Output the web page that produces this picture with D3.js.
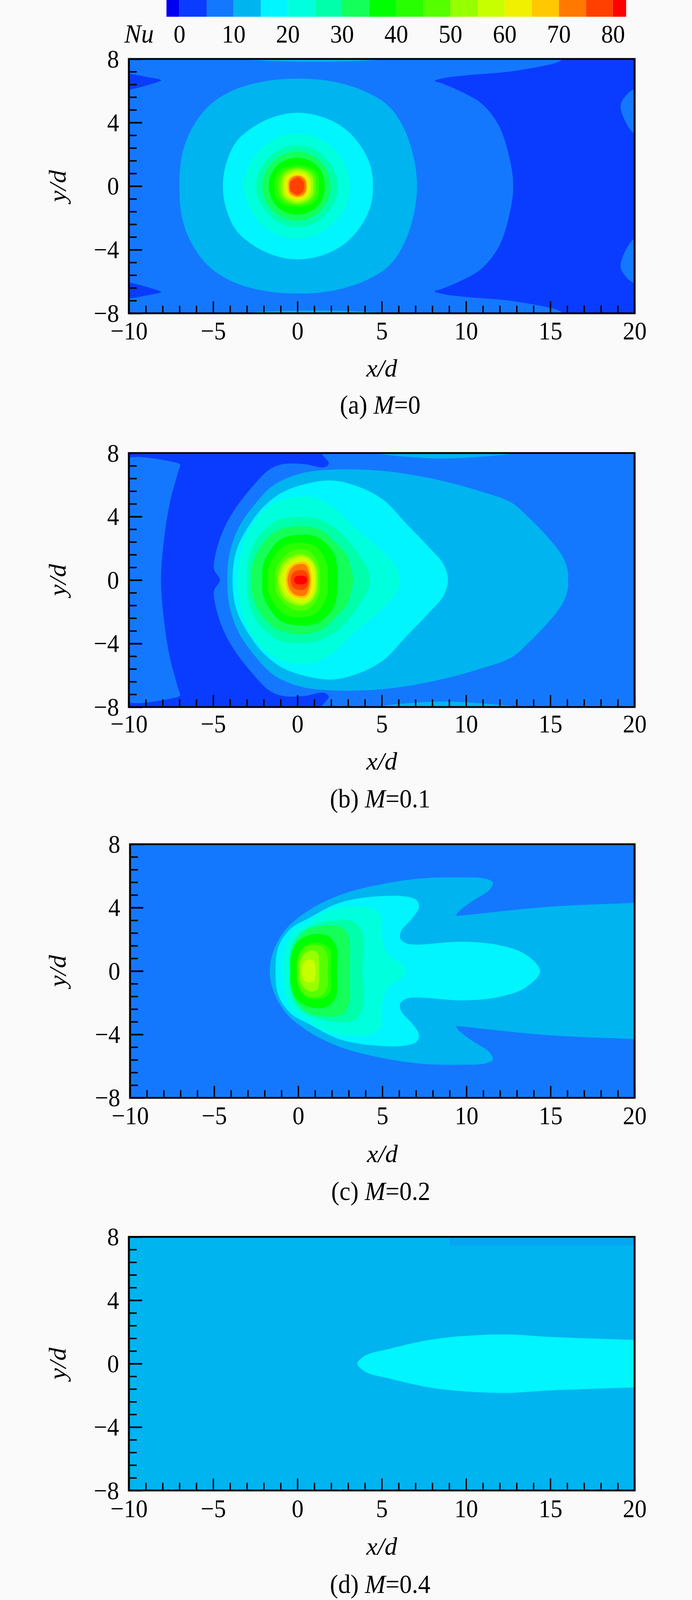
<!DOCTYPE html>
<html>
<head>
<meta charset="utf-8">
<script src="https://cdn.jsdelivr.net/npm/d3@7"></script>
<style>
  body { margin: 0; background: #fafafa; }
  text { font-family: "Liberation Serif", serif; fill: #000; }
  .domain { display: none; }
</style>
</head>
<body>
<div id="chart"></div>
<script>
// colour bands of Nu
const barEdges = [-2.4, 0, 5, 10, 15, 20, 25, 30, 35, 40, 45, 50, 55, 60, 65, 70, 75, 80, 82.4];
const barColors = ["#0000f0", "#0a3cff", "#1478ff", "#00b4f0", "#00f5ff", "#00ffdc", "#00ffaa", "#14ff5a", "#00ff00",
    "#28ff00", "#55ff00", "#96ff00", "#c8ff00", "#f0f000", "#ffc800", "#ff7800", "#ff4000", "#ff0000"];
const barTicks = [0, 10, 20, 30, 40, 50, 60, 70, 80];
const xMajor = [-10, -5, 0, 5, 10, 15, 20];
const yMajor = [-8, -4, 0, 4, 8];
const captions = [["(a) ", "M", "=0"], ["(b) ", "M", "=0.1"], ["(c) ", "M", "=0.2"], ["(d) ", "M", "=0.4"]];

// contour outlines: [Nu band, upper half outline in x/d, y/d]
// the fields are symmetric so the lower half is mirrored when drawing
const contoursA = [
    [0, [[12.8,0],[12.59,1.72],[11.94,3.82],[10.89,5.22],[9.58,6.01],[8.6,6.45],[8.14,6.62],[8.7,6.8],[10.1,6.98],[12.46,7.19],[15.34,7.76],[15.73,7.97],[16.1,8.3],[21.1,8.3],[21.1,0]]],
    [5, [[20.05,6.1],[19.2,5.22],[19.35,4.3],[20.05,3.3],[20.6,4.6]]],
    [0, [[-10.3,6.98],[-8.74,6.83],[-8.09,6.66],[-8.74,6.4],[-9.8,6.1],[-10.3,6.0]]],
    [10, [[-4,8.05],[6,8.05],[3,7.85],[-1,7.85]]],
    [10, [[-7,0],[-6.86,1.89],[-6.34,3.47],[-5.34,4.96],[-4.03,5.92],[-2.2,6.54],[0.16,6.76],[2.25,6.54],[4.08,5.92],[5.39,5.05],[6.31,3.65],[6.91,1.72],[7.09,0]]],
    [15, [[-4.42,0],[-4.24,1.37],[-3.64,2.77],[-2.72,3.65],[-1.41,4.35],[0,4.61],[1.47,4.35],[2.77,3.65],[3.82,2.42],[4.35,1.19],[4.48,0]]],
    [20, [[-3.2,0],[-2.95,1.15],[-2.3,2.2],[-1.2,3.05],[0,3.3],[1.15,3.05],[2.25,2.2],[2.9,1.15],[3.1,0]]],
    [25, [[-2.45,0],[-2.25,0.95],[-1.7,1.8],[-0.9,2.4],[0,2.56],[0.85,2.4],[1.65,1.8],[2.2,0.95],[2.4,0]]],
    [30, [[-2.08,0],[-1.9,0.85],[-1.45,1.55],[-0.75,2.02],[0,2.17],[0.7,2.02],[1.35,1.55],[1.8,0.85],[1.97,0]]],
    [35, [[-1.7,0],[-1.55,0.75],[-1.15,1.35],[-0.6,1.68],[0,1.8],[0.55,1.68],[1.1,1.35],[1.5,0.75],[1.62,0]]],
    [40, [[-1.35,0],[-1.3,0.6],[-0.9,1.1],[0,1.3],[0.9,1.1],[1.25,0.6],[1.27,0]]],
    [45, [[-1.15,0],[-1.05,0.6],[-0.7,1.0],[0,1.18],[0.7,1.0],[1.05,0.6],[1.1,0]]],
    [50, [[-1.0,0],[-0.9,0.55],[-0.6,0.9],[0,1.1],[0.6,0.9],[0.9,0.55],[0.95,0]]],
    [55, [[-0.85,0],[-0.8,0.5],[-0.5,0.8],[0,0.95],[0.5,0.8],[0.75,0.5],[0.8,0]]],
    [60, [[-0.7,0],[-0.62,0.45],[-0.4,0.7],[0,0.8],[0.4,0.7],[0.6,0.45],[0.68,0]]],
    [65, [[-0.6,0],[-0.55,0.4],[-0.35,0.62],[0,0.72],[0.35,0.62],[0.52,0.4],[0.58,0]]],
    [70, [[-0.52,0],[-0.47,0.35],[-0.3,0.55],[0,0.65],[0.3,0.55],[0.47,0.35],[0.52,0]]],
    [75, [[-0.45,0],[-0.4,0.3],[-0.2,0.45],[0,0.55],[0.2,0.45],[0.35,0.3],[0.4,0]]]
];
const contoursB = [
    [0, [[-8.09,0],[-7.91,2.6],[-7.57,4.86],[-7.04,6.95],[-6.96,7.27],[-7.7,7.51],[-9.27,7.75],[-10.3,7.8],[-10.3,8.2],[1.34,8.2],[1.47,7.91],[1.86,7.35],[1.6,7.1],[0.42,7.3],[-0.89,7.3],[-1.68,6.95],[-2.72,5.82],[-3.77,4.37],[-4.42,3.09],[-4.82,1.8],[-4.95,0.68],[-4.6,0]]],
    [10, [[4.6,8.0],[13,8.0],[8.5,7.65]]],
    [10, [[-4.16,0],[-4.03,1.64],[-3.51,3.25],[-2.59,4.69],[-1.41,5.98],[0.16,6.7],[1.99,6.95],[5.13,6.87],[8.01,6.38],[10.63,5.66],[12.72,4.86],[13.77,3.89],[14.8,2.76],[15.73,1.48],[16.05,0.5],[16.05,0]]],
    [15, [[-3.85,0],[-3.64,1.8],[-2.98,3.25],[-1.94,4.69],[-0.63,5.66],[1.86,6.27],[3.56,5.9],[5.13,5.02],[6.44,3.57],[7.75,2.12],[8.66,1.0],[8.93,0]]],
    [20, [[-3.55,0],[-3.45,1.2],[-3.1,2.6],[-2.6,3.6],[-1.6,4.7],[-0.4,5.2],[1,5.2],[2.2,4.5],[3.3,3.4],[4.4,2.4],[5.4,1.4],[5.95,0.6],[6.05,0]]],
    [25, [[-3.0,0],[-2.95,1],[-2.6,2.2],[-2.2,2.9],[-1.7,3.4],[-1.0,3.85],[1.0,3.9],[2.2,3.3],[3.0,2.5],[3.7,1.5],[4.2,0.6],[4.3,0]]],
    [30, [[-2.75,0],[-2.7,0.8],[-2.3,1.9],[-1.75,2.7],[-1,3.2],[0.4,3.4],[1.5,3.1],[2.2,2.4],[2.9,1.6],[3.2,0.7],[3.3,0]]],
    [35, [[-2.08,0],[-2.05,0.9],[-1.7,1.7],[-1.2,2.4],[-0.6,2.75],[0.9,2.8],[1.6,2.4],[2.2,1.6],[2.35,0.8],[2.4,0]]],
    [40, [[-1.75,0],[-1.7,0.8],[-1.3,1.6],[-0.7,2.2],[0.2,2.35],[1.1,2.1],[1.6,1.4],[1.8,0.7],[1.8,0]]],
    [45, [[-1.35,0],[-1.25,0.8],[-0.9,1.35],[-0.3,1.85],[0.5,1.9],[1,1.5],[1.3,0.8],[1.35,0]]],
    [50, [[-1.15,0],[-1.05,0.7],[-0.65,1.3],[0.2,1.62],[0.8,1.35],[1.15,0.7],[1.2,0]]],
    [55, [[-1.05,0],[-0.9,0.7],[-0.5,1.2],[0.3,1.5],[0.8,1.2],[1.05,0.6],[1.08,0]]],
    [60, [[-0.8,0],[-0.7,0.6],[-0.25,1.1],[0.5,1.2],[0.85,0.9],[0.98,0.4],[1.0,0]]],
    [65, [[-0.7,0],[-0.55,0.7],[-0.2,1.05],[0.5,1.12],[0.75,0.7],[0.82,0]]],
    [70, [[-0.6,0],[-0.42,0.65],[-0.1,0.95],[0.45,0.97],[0.65,0.6],[0.75,0]]],
    [75, [[-0.4,0],[-0.3,0.4],[0,0.6],[0.4,0.6],[0.6,0.35],[0.66,0]]],
    [80, [[-0.2,0],[-0.1,0.22],[0.2,0.28],[0.5,0.2],[0.58,0]]]
];
const contoursC = [
    [10, [[-1.69,0],[-1.48,1.24],[-0.69,2.69],[0.62,3.82],[2.45,4.78],[4.55,5.39],[7.17,5.83],[9.53,5.91],[11.1,5.83],[11.57,5.59],[11.36,5.11],[10.31,4.38],[9.5,3.7],[9.4,3.5],[9.7,3.5],[11.1,3.66],[15.03,4.06],[19.96,4.3],[21.6,4.4],[21.6,0]]],
    [15, [[-1.35,0],[-1.17,1.56],[-0.43,2.69],[0.62,3.33],[2.45,4.3],[4.55,4.7],[6.38,4.7],[7.04,4.46],[7.17,3.98],[6.78,3.33],[6.12,2.53],[6.07,2.05],[6.51,1.72],[9.79,1.85],[11.89,1.64],[13.46,1.08],[14.38,0]]],
    [20, [[-0.86,0],[-0.78,1.34],[-0.32,2.45],[0.46,2.95],[1.23,3.56],[2.31,3.98],[4.3,3.98],[4.9,3.5],[5.0,2.1],[5.33,1.03],[6.2,0.4],[6.4,0]]],
    [25, [[-0.5,0],[-0.5,1.2],[-0.1,2.2],[0.5,2.7],[1.2,3.0],[2.2,3.2],[3.2,3.15],[3.75,2.6],[3.82,0]]],
    [30, [[-0.4,0],[-0.4,1.1],[-0.05,2],[0.5,2.6],[1.4,2.85],[2.6,2.75],[3.0,2.1],[3.05,0]]],
    [35, [[-0.47,0],[-0.45,0.9],[-0.1,1.8],[0.8,2.3],[1.7,2.25],[2.25,1.6],[2.31,0]]],
    [40, [[-0.1,0],[-0.1,0.6],[0.15,1.3],[0.7,1.76],[1.5,1.7],[1.9,1.3],[1.93,0]]],
    [45, [[-0.05,0],[0,0.7],[0.3,1.4],[0.8,1.65],[1.4,1.55],[1.7,1.1],[1.75,0]]],
    [50, [[0.1,0],[0.12,0.6],[0.4,1.1],[0.8,1.3],[1.15,1.15],[1.25,0.6],[1.25,0]]],
    [55, [[0.2,0],[0.3,0.5],[0.5,0.7],[0.9,0.68],[1.0,0.4],[1.05,0]]]
];
const contoursD = [
    [15, [[3.56,0],[4.08,0.54],[5.39,0.92],[7.23,1.38],[8.53,1.61],[10.1,1.76],[12.46,1.84],[15.08,1.68],[20,1.5],[21.6,1.45],[21.6,0]]]
];
const backgrounds = [5, 5, 5, 10];
// lighter strip along the top edge of panel (d)
const stripD = [[9.02,8.2],[21,8.2],[21,7.45],[9.02,7.45]];

const panels = [contoursA, contoursB, contoursC, contoursD];
// pixel boxes of the four plots and offsets of their texts
const boxes = [
    {left: 330, right: 1625, top: 162, bottom: 861, tick: 49, xLab: 152, cap: 256},
    {left: 330, right: 1625, top: 1245, bottom: 1943, tick: 47, xLab: 150, cap: 256},
    {left: 333, right: 1625, top: 2320, bottom: 3017, tick: 50, xLab: 155, cap: 261},
    {left: 330, right: 1625, top: 3399, bottom: 4096, tick: 50, xLab: 155, cap: 262}
];
const squeeze = 0.87;

// the layout is 4397 tall, fit it if the window is shorter so panel (d) keeps its labels
const svg = d3.select("#chart").append("svg")
    .attr("width", 1772)
    .attr("height", Math.min(4397, window.innerHeight))
    .attr("viewBox", "0 0 1772 4397")
    .attr("preserveAspectRatio", "none")
    .style("display", "block");

const color = d3.scaleThreshold().domain(barEdges.slice(1, -1)).range(barColors);

// legend
const barX = d3.scaleLinear().domain([0, 80]).range([459.6, 1570]);
const bar = svg.append("g");
bar.selectAll("rect")
    .data(barColors)
    .enter()
    .append("rect")
    .attr("x", (d, i) => barX(barEdges[i]))
    .attr("y", 0)
    .attr("width", (d, i) => barX(barEdges[i + 1]) - barX(barEdges[i]))
    .attr("height", 46)
    .attr("fill", d => d);
bar.selectAll("text")
    .data(barTicks)
    .enter()
    .append("text")
    .attr("transform", d => `translate(${barX(d)},117) scale(${squeeze},1)`)
    .attr("text-anchor", "middle")
    .attr("font-size", 70)
    .text(d => d);
svg.append("text")
    .attr("transform", "translate(356,117) scale(0.9,1)")
    .attr("text-anchor", "middle")
    .attr("font-size", 72)
    .attr("font-style", "italic")
    .text("Nu");

function outlines(half) {
    // closed around y=0 when it starts on the axis, else a top and a bottom copy
    let lower = half.map(p => [p[0], -p[1]]);
    if (half[0][1] === 0) return [half.concat(lower.slice(1, -1).reverse())];
    return [half, lower];
}

panels.forEach((contours, i) => {
    let b = boxes[i];
    let x = d3.scaleLinear().domain([-10, 20]).range([b.left, b.right]);
    let y = d3.scaleLinear().domain([-8, 8]).range([b.bottom, b.top]);
    let line = d3.line()
        .x(d => x(d[0]))
        .y(d => y(d[1]))
        .curve(d3.curveCatmullRomClosed.alpha(0.5));

    let g = svg.append("g");
    svg.append("clipPath").attr("id", "clip" + i)
        .append("rect")
        .attr("x", b.left).attr("y", b.top)
        .attr("width", b.right - b.left).attr("height", b.bottom - b.top);

    let field = g.append("g").attr("clip-path", `url(#clip${i})`);
    field.append("rect")
        .attr("x", b.left).attr("y", b.top)
        .attr("width", b.right - b.left).attr("height", b.bottom - b.top)
        .attr("fill", color(backgrounds[i]));

    let shapes = [];
    contours.forEach(c => outlines(c[1]).forEach(o => shapes.push({nu: c[0], pts: o})));
    field.selectAll("path")
        .data(shapes)
        .enter()
        .append("path")
        .attr("d", d => line(d.pts))
        .attr("fill", d => color(d.nu));

    if (i === 3) {
        field.append("path")
            .attr("d", d3.line().x(d => x(d[0])).y(d => y(d[1]))(stripD) + "Z")
            .attr("fill", "#08a5f0");
    }

    // minor ticks
    g.append("g").attr("transform", `translate(0,${b.bottom})`)
        .call(d3.axisBottom(x).tickValues(d3.range(-10, 21).filter(v => v % 5 !== 0)).tickSize(-21).tickFormat(""))
        .call(s => s.selectAll("line").attr("stroke-width", 3.5));
    g.append("g").attr("transform", `translate(${b.left},0)`)
        .call(d3.axisLeft(y).tickValues(d3.range(0, 21).map(v => -8 + v * 0.8).filter((v, k) => k % 5 !== 0)).tickSize(-20).tickFormat(""))
        .call(s => s.selectAll("line").attr("stroke-width", 4));

    // major ticks with labels
    let xAxis = g.append("g").attr("transform", `translate(0,${b.bottom})`)
        .call(d3.axisBottom(x).tickValues(xMajor).tickSize(-33));
    xAxis.selectAll("line").attr("stroke-width", 3.5);
    xAxis.selectAll("text")
        .attr("y", b.tick + 23).attr("dy", 0)
        .attr("font-size", 70)
        .attr("font-family", "Liberation Serif")
        .attr("transform", `scale(${squeeze},1)`);

    let yAxis = g.append("g").attr("transform", `translate(${b.left},0)`)
        .call(d3.axisLeft(y).tickValues(yMajor).tickSize(-34));
    yAxis.selectAll("line").attr("stroke-width", 4.5);
    yAxis.selectAll("text")
        .attr("x", -25 / squeeze).attr("dy", 23)
        .attr("font-size", 70)
        .attr("font-family", "Liberation Serif")
        .attr("transform", `scale(${squeeze},1)`);

    // frame
    g.append("rect")
        .attr("x", b.left).attr("y", b.top)
        .attr("width", b.right - b.left).attr("height", b.bottom - b.top)
        .attr("fill", "none").attr("stroke", "#000").attr("stroke-width", 5);

    // axis titles
    g.append("text")
        .attr("transform", `translate(${x(5)},${b.bottom + b.xLab + 22}) scale(0.95,1)`)
        .attr("text-anchor", "middle").attr("font-size", 68).attr("font-style", "italic")
        .text("x/d");
    g.append("text")
        .attr("transform", `translate(168,${y(0)}) rotate(-90) scale(1.06,0.9)`)
        .attr("text-anchor", "middle").attr("font-size", 68).attr("font-style", "italic")
        .text("y/d");

    let cap = g.append("text")
        .attr("transform", `translate(${x(5) - 4},${b.bottom + b.cap + 20}) scale(0.88,1)`)
        .attr("text-anchor", "middle").attr("font-size", 72);
    cap.append("tspan").text(captions[i][0]);
    cap.append("tspan").attr("font-style", "italic").text(captions[i][1]);
    cap.append("tspan").text(captions[i][2]);
});
</script>
</body>
</html>
